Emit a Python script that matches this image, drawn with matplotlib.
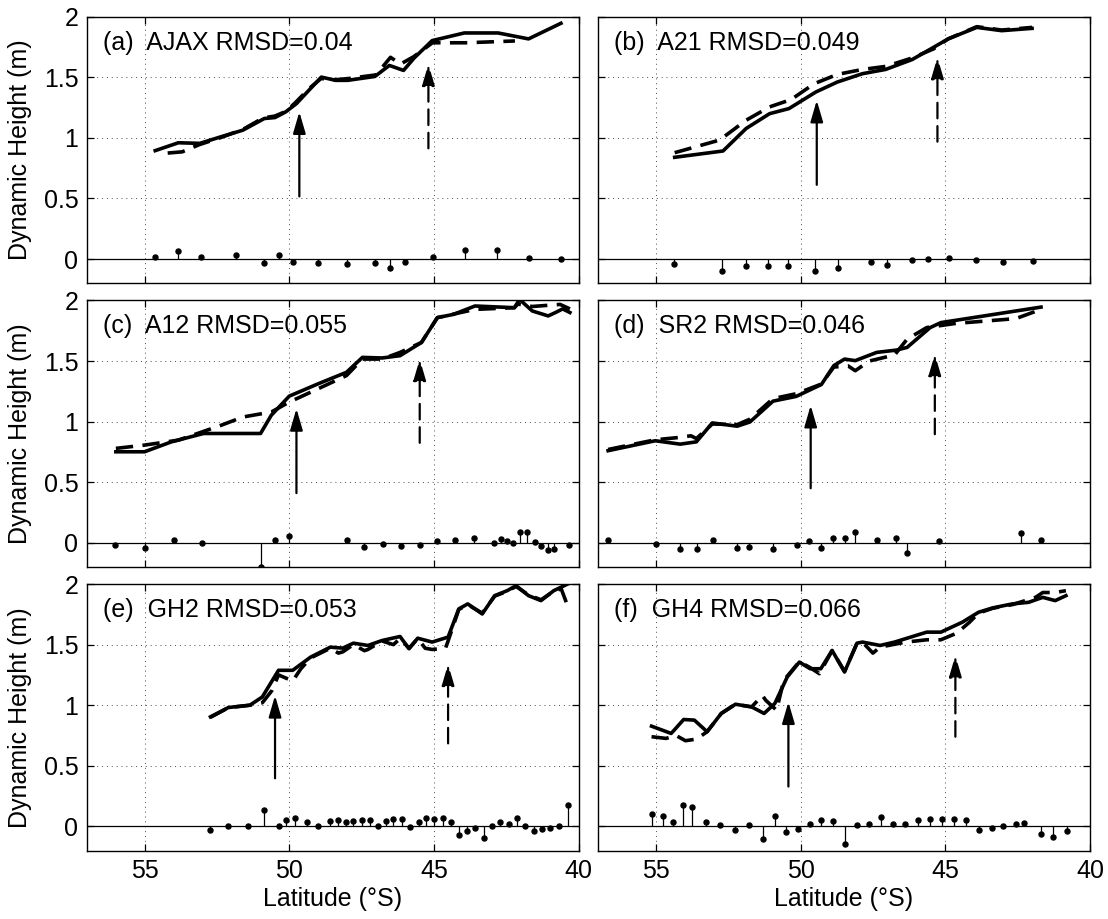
import matplotlib
matplotlib.use("Agg")
import matplotlib.pyplot as plt

plt.rcParams['font.family'] = ['Liberation Sans', 'DejaVu Sans']

# ---- (a) AJAX ----
a_lat = [54.63, 53.83, 53.09, 52.35, 51.6, 50.86, 50.49, 50.12, 49.75, 49.32, 48.89, 48.4,
         47.98, 47.04, 46.54, 46.05, 45.68, 45.06, 43.95, 42.78, 41.73, 40.61]
a_dh = [0.895, 0.96, 0.955, 1.01, 1.064, 1.16, 1.168, 1.215, 1.283, 1.393, 1.502, 1.475,
        1.475, 1.507, 1.598, 1.557, 1.66, 1.803, 1.866, 1.866, 1.817, 1.946]
a_dlat = [54.2, 53.7, 53.1, 52.4, 51.6, 50.9, 50.5, 50.1, 49.75, 49.3, 48.9, 48.4, 47.95,
          47.0, 46.5, 46.15, 45.7, 45.05, 43.9, 42.2]
a_dash = [0.875, 0.885, 0.945, 1.0, 1.07, 1.165, 1.18, 1.22, 1.3, 1.41, 1.49, 1.48, 1.49,
          1.52, 1.665, 1.61, 1.67, 1.785, 1.785, 1.80]
a_rlat = [54.63, 53.83, 53.05, 51.85, 50.86, 50.37, 49.88, 49.0, 48.02, 47.04, 46.52, 46.0,
          45.02, 43.93, 42.81, 41.7, 40.6]
a_res = [0.02, 0.07, 0.016, 0.033, -0.03, 0.033, -0.025, -0.035, -0.038, -0.03, -0.074,
         -0.022, 0.016, 0.074, 0.071, 0.011, 0.0]

# ---- (b) A21 ----
b_lat = [54.35, 52.68, 51.88, 51.07, 50.4, 49.47, 48.73, 47.86, 47.06, 46.14, 45.4, 44.9,
         43.91, 43.05, 42.0]
b_dh = [0.84, 0.892, 1.078, 1.2, 1.242, 1.379, 1.461, 1.53, 1.565, 1.647, 1.748, 1.817,
        1.912, 1.885, 1.904]
b_dlat = [54.35, 52.8, 51.88, 51.07, 50.33, 49.53, 48.73, 47.86, 47.06, 46.14, 45.4, 44.9,
          43.91, 43.05, 42.0]
b_dash = [0.878, 0.982, 1.146, 1.256, 1.316, 1.447, 1.524, 1.565, 1.59, 1.66, 1.735, 1.817,
          1.918, 1.89, 1.912]
b_rlat = [54.37, 52.7, 51.88, 51.14, 50.42, 49.49, 48.69, 47.55, 47.0, 46.16, 45.58, 44.88,
          43.94, 43.01, 41.96]
b_res = [-0.038, -0.098, -0.057, -0.057, -0.057, -0.098, -0.071, -0.025, -0.049, -0.011,
         -0.003, 0.011, -0.011, -0.025, -0.016]

# ---- (c) A12 ----
c_lat = [55.99, 55.0, 54.07, 52.96, 50.99, 50.62, 50.0, 49.01, 48.02, 47.47, 46.79, 46.17,
         45.43, 44.88, 44.32, 43.58, 42.22, 42.04, 41.6, 41.05, 40.8, 40.55, 40.3]
c_dh = [0.751, 0.751, 0.833, 0.902, 0.902, 1.052, 1.21, 1.311, 1.407, 1.53, 1.525, 1.544,
        1.653, 1.858, 1.885, 1.954, 1.94, 2.008, 1.913, 1.872, 1.9, 1.93, 1.9]
c_dlat = [55.99, 55.0, 53.83, 52.35, 51.6, 50.62, 50.0, 49.01, 48.02, 47.47, 46.79, 46.17,
          45.43, 44.88, 43.58, 42.22, 42.1, 41.6, 40.64, 40.3]
c_dash = [0.779, 0.806, 0.847, 0.97, 1.038, 1.079, 1.161, 1.27, 1.38, 1.516, 1.516, 1.571,
          1.653, 1.858, 1.926, 1.94, 1.97, 1.95, 1.967, 1.93]
c_rlat = [56.01, 55.0, 53.99, 53.0, 50.99, 50.49, 50.0, 48.0, 47.41, 46.77, 46.14, 45.49,
          44.88, 44.26, 43.6, 42.94, 42.69, 42.47, 42.25, 42.01, 41.77, 41.52, 41.3, 41.05,
          40.84, 40.33]
c_res = [-0.022, -0.041, 0.019, 0.0, -0.197, 0.027, 0.055, 0.019, -0.036, -0.008, -0.027,
         -0.019, 0.014, 0.019, 0.041, -0.005, 0.033, 0.014, -0.005, 0.093, 0.093, 0.005,
         -0.027, -0.06, -0.055, -0.022]

# ---- (d) SR2 ----
d_lat = [56.65, 55.02, 54.16, 53.6, 53.05, 52.19, 51.75, 50.95, 50.15, 49.28, 48.85, 48.48,
         48.11, 47.37, 46.69, 46.32, 45.52, 45.15, 41.69]
d_dh = [0.76, 0.842, 0.814, 0.833, 0.989, 0.962, 0.997, 1.169, 1.208, 1.306, 1.462, 1.516,
        1.503, 1.571, 1.59, 1.612, 1.776, 1.817, 1.945]
d_dlat = [56.65, 55.02, 54.16, 53.79, 53.6, 53.05, 52.19, 51.75, 50.95, 50.15, 49.28, 48.85,
          48.36, 48.11, 47.62, 46.75, 46.32, 45.64, 44.65, 42.56, 41.69]
d_dash = [0.77, 0.85, 0.87, 0.883, 0.86, 0.98, 0.975, 1.02, 1.19, 1.23, 1.31, 1.45, 1.46,
          1.42, 1.5, 1.55, 1.68, 1.776, 1.81, 1.85, 1.926]
d_rlat = [56.65, 55.0, 54.16, 53.58, 53.01, 52.19, 51.78, 50.95, 50.11, 49.72, 49.28, 48.88,
          48.48, 48.11, 47.37, 46.69, 46.32, 45.21, 42.37, 41.69]
d_res = [0.019, -0.008, -0.049, -0.055, 0.019, -0.041, -0.033, -0.049, -0.019, 0.014, -0.041,
         0.041, 0.036, 0.09, 0.019, 0.036, -0.087, 0.014, 0.082, 0.027]

# ---- (e) GH2 ----
e_lat = [52.72, 52.1, 51.36, 50.93, 50.37, 49.88, 49.26, 48.58, 48.15, 47.78, 47.28, 46.79,
         46.17, 45.86, 45.56, 45.06, 44.51, 44.14, 43.83, 43.33, 42.9, 42.47, 42.16, 41.73,
         41.3, 40.86, 40.38]
e_dh = [0.904, 0.981, 1.0, 1.068, 1.288, 1.288, 1.397, 1.479, 1.471, 1.512, 1.493, 1.534,
        1.567, 1.466, 1.553, 1.521, 1.562, 1.795, 1.836, 1.753, 1.904, 1.945, 1.986, 1.904,
        1.863, 1.945, 2.0]
e_dlat = [52.72, 52.1, 51.36, 50.93, 50.6, 50.37, 49.88, 49.6, 49.26, 48.58, 48.3, 48.15,
          47.78, 47.4, 47.28, 46.79, 46.4, 46.17, 45.86, 45.56, 45.3, 45.06, 44.6, 44.51,
          44.14, 43.83, 43.33, 42.9, 42.47, 42.16, 41.73, 41.3, 40.86, 40.6, 40.38]
e_dash = [0.9, 0.98, 1.0, 1.02, 1.12, 1.25, 1.2, 1.3, 1.39, 1.47, 1.43, 1.44, 1.5, 1.45,
          1.46, 1.53, 1.5, 1.55, 1.47, 1.55, 1.47, 1.46, 1.47, 1.53, 1.79, 1.83, 1.76, 1.9,
          1.94, 1.98, 1.91, 1.87, 1.94, 1.96, 1.82]
e_rlat = [52.74, 52.1, 51.44, 50.88, 50.35, 50.12, 49.81, 49.4, 49.01, 48.58, 48.33, 48.05,
          47.78, 47.49, 47.22, 46.94, 46.67, 46.4, 46.11, 45.83, 45.53, 45.27, 44.98, 44.69,
          44.42, 44.14, 43.85, 43.58, 43.27, 42.99, 42.72, 42.41, 42.14, 41.85, 41.54, 41.26,
          40.99, 40.67, 40.38]
e_res = [-0.027, 0.005, 0.005, 0.132, 0.005, 0.055, 0.068, 0.033, 0.005, 0.041, 0.049, 0.033,
         0.041, 0.049, 0.049, 0.005, 0.041, 0.06, 0.06, -0.008, 0.033, 0.068, 0.06, 0.068,
         0.033, -0.068, -0.041, -0.014, -0.096, 0.005, 0.033, 0.022, 0.068, 0.005, -0.036,
         -0.022, -0.014, 0.005, 0.175]

# ---- (f) GH4 ----
f_lat = [55.15, 54.47, 54.04, 53.67, 53.23, 52.74, 52.25, 51.69, 51.26, 50.89, 50.46, 50.04,
         49.67, 49.3, 48.91, 48.48, 48.05, 47.86, 47.25, 46.75, 45.64, 45.15, 44.41, 43.85,
         43.36, 42.68, 42.12, 41.63, 41.2, 40.83]
f_dh = [0.827, 0.767, 0.882, 0.877, 0.781, 0.932, 1.008, 0.986, 0.932, 1.014, 1.233, 1.356,
        1.301, 1.301, 1.452, 1.274, 1.512, 1.521, 1.493, 1.521, 1.603, 1.603, 1.685, 1.767,
        1.803, 1.836, 1.849, 1.89, 1.863, 1.904]
f_dlat = [55.15, 54.65, 54.3, 53.98, 53.6, 53.23, 52.74, 52.25, 51.69, 51.32, 51.2, 50.83,
          50.58, 50.04, 49.67, 49.35, 48.91, 48.48, 48.05, 47.86, 47.5, 47.25, 46.38, 45.64,
          45.15, 44.6, 44.16, 43.85, 43.36, 42.68, 41.88, 41.63, 41.2, 40.83]
f_dash = [0.74, 0.726, 0.75, 0.707, 0.72, 0.781, 0.932, 1.008, 0.986, 1.08, 1.04, 0.959,
          1.205, 1.36, 1.31, 1.26, 1.45, 1.28, 1.51, 1.52, 1.43, 1.48, 1.52, 1.54, 1.54,
          1.595, 1.685, 1.76, 1.8, 1.83, 1.89, 1.93, 1.93, 1.945]
f_rlat = [55.15, 54.74, 54.41, 54.07, 53.75, 53.26, 52.77, 52.27, 51.78, 51.3, 50.89, 50.5,
          50.1, 49.69, 49.3, 48.88, 48.47, 48.05, 47.64, 47.22, 46.81, 46.38, 45.95, 45.54,
          45.12, 44.7, 44.27, 43.83, 43.4, 42.99, 42.56, 42.28, 41.68, 41.27, 40.8]
f_res = [0.101, 0.082, 0.033, 0.178, 0.156, 0.033, 0.014, -0.027, 0.014, -0.101, 0.082,
         -0.049, -0.022, 0.019, 0.055, 0.041, -0.142, 0.014, 0.022, 0.077, 0.022, 0.022,
         0.049, 0.06, 0.06, 0.06, 0.055, -0.027, -0.014, 0.005, 0.022, 0.027, -0.06, -0.088,
         -0.041]

labels = ['(a)  AJAX RMSD=0.04', '(b)  A21 RMSD=0.049', '(c)  A12 RMSD=0.055',
          '(d)  SR2 RMSD=0.046', '(e)  GH2 RMSD=0.053', '(f)  GH4 RMSD=0.066']
# arrows: latitude, base, tip
solid_arrows = [(49.65, 0.517, 1.215), (49.44, 0.613, 1.31), (49.75, 0.41, 1.107),
                (49.65, 0.45, 1.134), (50.49, 0.397, 1.08), (50.42, 0.329, 1.027)]
dashed_arrows = [(45.19, 0.914, 1.61), (45.27, 0.969, 1.666), (45.49, 0.825, 1.516),
                 (45.36, 0.896, 1.557), (44.51, 0.685, 1.34), (44.65, 0.74, 1.411)]

panels = [
    (a_lat, a_dh, a_dlat, a_dash, a_rlat, a_res),
    (b_lat, b_dh, b_dlat, b_dash, b_rlat, b_res),
    (c_lat, c_dh, c_dlat, c_dash, c_rlat, c_res),
    (d_lat, d_dh, d_dlat, d_dash, d_rlat, d_res),
    (e_lat, e_dh, e_dlat, e_dash, e_rlat, e_res),
    (f_lat, f_dh, f_dlat, f_dash, f_rlat, f_res),
]

fig = plt.figure(figsize=(11.08, 9.19), dpi=100)
lefts = [0.0782, 0.5397]
bottoms = [0.6917, 0.383, 0.0744]
w, h = 0.444, 0.2901
head = '-|>,head_length=0.65,head_width=0.19'

for i, (lat, dh, dlat, dash, rlat, res) in enumerate(panels):
    row, col = i // 2, i % 2
    ax = fig.add_axes([lefts[col], bottoms[row], w, h])

    ax.axhline(0, color='k', lw=0.9, zorder=2)
    ax.vlines(rlat, 0, res, color='k', lw=0.9, zorder=2)
    ax.plot(rlat, res, 'o', color='k', ms=3.6, zorder=3)

    ax.plot(dlat, dash, color='k', lw=2.6, ls=(0, (4.8, 2.6)), zorder=4)
    ax.plot(lat, dh, color='k', lw=2.6, zorder=5)

    x, y0, y1 = solid_arrows[i]
    ax.annotate('', xy=(x, y1), xytext=(x, y0),
                arrowprops=dict(arrowstyle=head, color='k', lw=1.6, shrinkA=0,
                                shrinkB=0, mutation_scale=20), zorder=6)
    x, y0, y1 = dashed_arrows[i]
    ax.annotate('', xy=(x, y1), xytext=(x, y0),
                arrowprops=dict(arrowstyle=head, color='k', lw=1.6, shrinkA=0,
                                shrinkB=0, linestyle=(0, (7, 3.5)),
                                mutation_scale=20), zorder=6)

    ax.text(0.033, 0.903, labels[i], transform=ax.transAxes, fontsize=18,
            ha='left', va='center', zorder=7)

    ax.set_xlim(57, 40)
    ax.set_ylim(-0.2, 2)
    ax.set_xticks([55, 50, 45, 40])
    ax.set_yticks([0, 0.5, 1, 1.5, 2])
    ax.set_yticklabels(['0', '0.5', '1', '1.5', '2'])
    ax.grid(True, ls=(0, (1, 4)), color='k', lw=0.7, alpha=0.7)
    ax.tick_params(direction='in', top=True, right=True, length=5, width=0.9,
                   labelsize=18, pad=6)
    for s in ax.spines.values():
        s.set_linewidth(1.0)

    if row == 2:
        ax.set_xlabel('Latitude (°S)', fontsize=18, labelpad=3)
    else:
        ax.tick_params(labelbottom=False)
    if col == 0:
        ax.set_ylabel('Dynamic Height (m)', fontsize=18, labelpad=8)
    else:
        ax.tick_params(labelleft=False)

fig.savefig('out.png', dpi=100)
